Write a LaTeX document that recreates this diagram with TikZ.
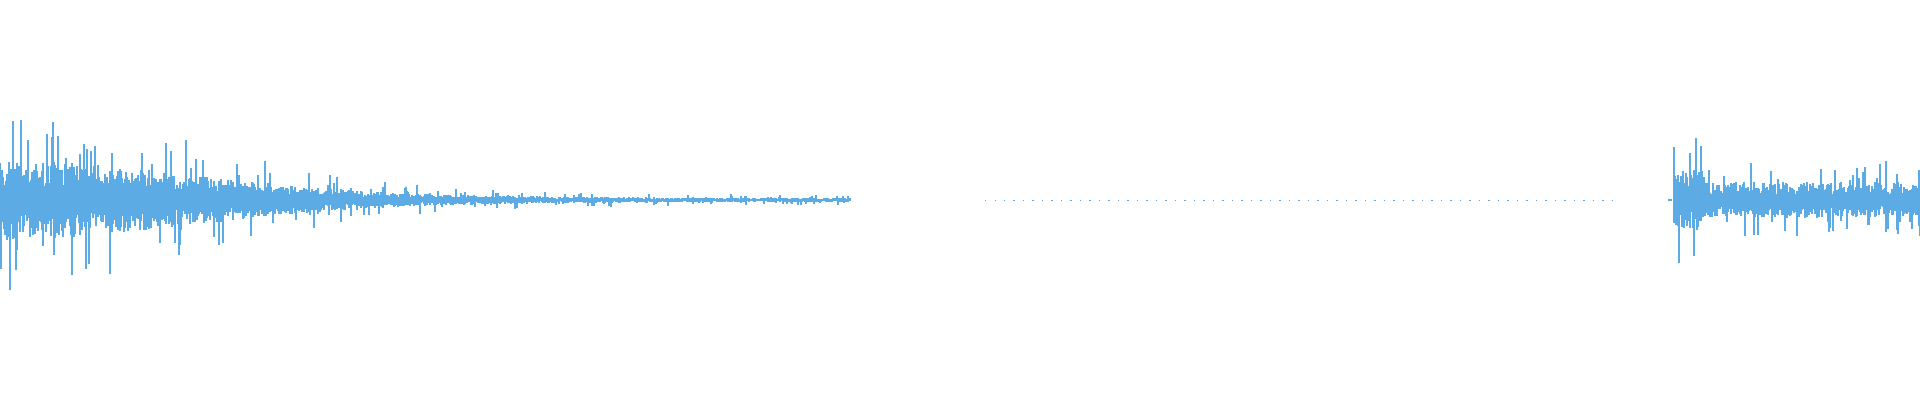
\documentclass[tikz,border=0pt]{standalone}
\definecolor{wave}{RGB}{93,171,228}
\begin{document}
\begin{tikzpicture}[x=0.01cm,y=0.01cm,wv/.style={draw=wave,line width=0.3pt}]
\useasboundingbox (0,0) rectangle (1920,400);
\pgfmathsetseed{7}
\foreach \x in {0,1,...,850}{
  \pgfmathsetmacro\A{34*exp(-(\x/270)^2)+5*exp(-\x/450)+1.5}
  \pgfmathsetmacro\t{\A*(0.3+0.7*rnd)*(1+1.3*(rnd>0.9))}
  \pgfmathsetmacro\b{\A*(0.3+0.7*rnd)*(1+1.3*(rnd>0.9))}
  \draw[wv] (\x,200+\t) -- (\x,200-\b);
}
\draw[wave,line width=0.25pt,dash pattern=on 0.4pt off 2.3pt] (985,200) -- (1620,200);
\draw[wv] (1668,200) -- (1672,200);
\foreach \x in {1674,1675,...,1920}{
  \pgfmathsetmacro\A{(\x<1705 ? 32 : 18)}
  \pgfmathsetmacro\t{\A*(0.3+0.7*rnd)*(1+1.2*(rnd>0.9))}
  \pgfmathsetmacro\b{\A*(0.3+0.7*rnd)*(1+1.2*(rnd>0.9))}
  \draw[wv] (\x,200+\t) -- (\x,200-\b);
}
\end{tikzpicture}
\end{document}
